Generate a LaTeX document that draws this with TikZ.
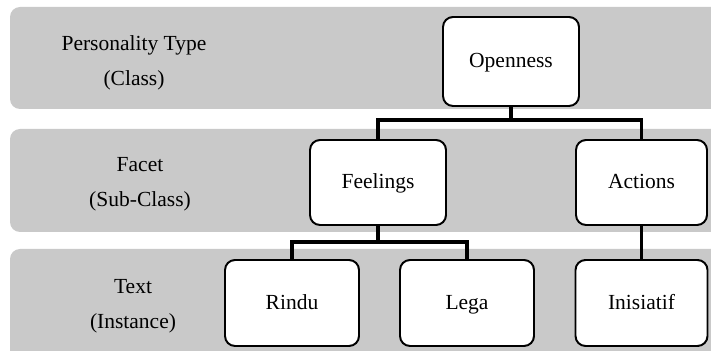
\documentclass[tikz,border=0pt]{standalone}
\usepackage{fontspec}
\setmainfont{Liberation Serif}
\definecolor{bandgray}{RGB}{201,201,201}
\tikzset{
    band/.style={fill=bandgray, rounded corners=0.25cm},
    item/.style={draw, fill=white, line width=1.4pt, rounded corners=0.25cm,
        minimum width=3.35cm, minimum height=2.15cm,
        text height=2ex, text depth=0ex, font=\fontsize{15.3}{18}\selectfont},
    level/.style={align=center, font=\fontsize{15.3}{25}\selectfont},
    link/.style={line width=2.8pt}
}
\begin{document}
\begin{tikzpicture}
    \clip (0,0) rectangle (17.775,8.775);

    % Background bands
    \fill[band] (0.25,6.05)  rectangle (18.5,8.6);
    \fill[band] (0.25,2.975) rectangle (18.5,5.55);
    \fill[band] (0.25,-0.5)  rectangle (18.5,2.55);

    % Level labels
    \node[level] (l1) at (3.35,7.2125)  {Personality Type\\(Class)};
    \node[level] (l2) at (3.5,4.1625)   {Facet\\(Sub-Class)};
    \node[level] (l3) at (3.325,1.1125) {Text\\(Instance)};

    % Class
    \node[item, minimum width=3.4cm, minimum height=2.225cm] (open) at (12.775,7.2375) {Openness};

    % Sub-classes
    \node[item, minimum width=3.4cm, minimum height=2.125cm] (feel) at (9.45,4.2125) {Feelings};
    \node[item, minimum width=3.275cm, minimum height=2.125cm] (act) at (16.0375,4.2125) {Actions};

    % Instances
    \node[item] (rindu) at (7.3,1.2)     {Rindu};
    \node[item] (lega)  at (11.675,1.2)  {Lega};
    \node[item, minimum width=3.3cm] (inis) at (16.0375,1.2) {Inisiatif};

    % Junctions
    \coordinate (j1) at (12.775,5.775);
    \coordinate (j2) at (9.45,2.725);

    % Lines
    \draw[link] (open.south) -- (j1) -| (feel.north);
    \draw[link] (j1) -| (act.north);
    \draw[link] (feel.south) -- (j2) -| (rindu.north);
    \draw[link] (j2) -| (lega.north);
    \draw[link] (act.south) -- (inis.north);
\end{tikzpicture}
\end{document}
